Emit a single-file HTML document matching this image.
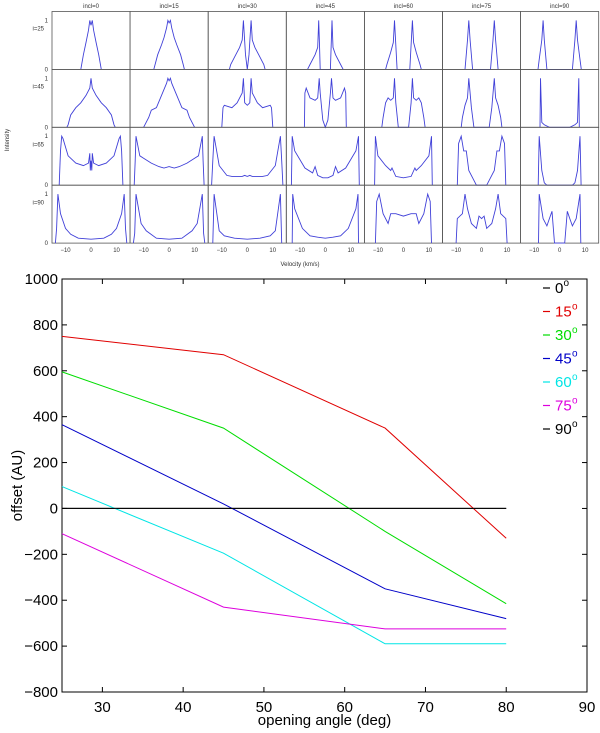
<!DOCTYPE html>
<html><head><meta charset="utf-8"><style>
body{margin:0;background:#fff;width:600px;height:733px;overflow:hidden;font-family:"Liberation Sans",sans-serif}
svg{position:absolute;left:0;top:0}
</style></head><body>
<svg id="top" width="600" height="270"></svg>
<svg id="bot" width="600" height="733" style="top:0"></svg>
<script>
const NS="http://www.w3.org/2000/svg";
function mk(p,t,a){const e=document.createElementNS(NS,t);for(const k in a)e.setAttribute(k,a[k]);p.appendChild(e);return e;}
// ---------- top grid data ----------
const colTitles=["incl=0","incl=15","incl=30","incl=45","incl=60","incl=75","incl=90"];
const rowLabels=["i=25","i=45","i=65","i=90"];
const velTicks=[-10,0,10];
// half-profiles [velocity, intensity], mirrored about v=0
const profiles=[
[[[0,0.9],[0.5,1],[1,0.8],[2,0.55],[3,0.3],[4,0]],
 [[0,0.95],[0.5,1],[1,0.85],[2,0.65],[3,0.5],[4.5,0.3],[5.5,0.1],[6,0]],
 [[0,0],[0.7,0.3],[1.5,1],[2,0.6],[3,0.45],[5,0.25],[6.5,0.1],[7,0]],
 [[0,0],[2,0],[2.3,0.5],[2.6,1],[3,0.45],[4,0.3],[6,0.1],[7,0]],
 [[0,0],[2.5,0],[3,0.5],[3.5,1],[4,0.55],[5,0.35],[6.5,0.1],[7,0]],
 [[0,0],[3.5,0],[4.5,0.6],[5,1],[5.5,0.6],[6.5,0]],
 [[0,0],[5,0],[6,0.6],[6.5,1],[7,0.6],[8,0.2],[8.5,0]]],
[[[0,1],[0.5,0.8],[2,0.65],[4,0.5],[6,0.4],[8,0.25],[9,0.05],[9.5,0]],
 [[0,0.95],[0.5,1],[1,0.9],[3,0.65],[5,0.4],[7,0.35],[8,0.2],[10,0]],
 [[0,0.45],[1,0.5],[1.5,1],[2,0.7],[4,0.5],[6,0.4],[9,0.45],[9.5,0.4],[10,0]],
 [[0,0],[1,0.15],[2,0.7],[2.4,1],[3,0.6],[4,0.55],[6,0.6],[7.5,0.8],[8,0.7],[8.2,0]],
 [[0,0],[2,0],[3,0.5],[3.5,1],[4,0.6],[5,0.55],[6,0.6],[7,0.5],[8,0.2],[8.5,0]],
 [[0,0],[3,0],[4,0.4],[5,1],[5.5,0.6],[6.5,0.45],[7.5,0.2],[8,0]],
 [[0,0],[4,0],[6,0.05],[7,0.1],[7.5,1],[7.7,0]]],
[[[0,0.5],[0.3,0.3],[0.5,0.65],[1,0.45],[3,0.4],[6,0.45],[9,0.6],[11,0.95],[11.5,1],[12,0.7],[12.5,0]],
 [[0,0.38],[2,0.35],[4,0.38],[7,0.45],[10,0.55],[11.5,0.6],[13,1],[13.3,0.5],[13.7,0]],
 [[0,0.18],[1,0.2],[2,0.18],[6,0.18],[8,0.2],[11,0.4],[13,1],[13.5,0.5],[14,0]],
 [[0,0.15],[1,0.15],[3,0.2],[4,0.38],[5,0.25],[8,0.35],[12,0.7],[13,1],[13.3,0]],
 [[0,0.15],[3,0.18],[4.5,0.35],[5,0.3],[7,0.4],[10,0.6],[11,1],[11.3,0]],
 [[0,0],[2,0],[3,0.1],[5,0.3],[6,0.7],[7,0.7],[8,1],[9,0.85],[9.5,0]],
 [[0,0],[5,0],[6,0.05],[7,0.3],[8,1],[8.4,0]]],
[[[0,0.08],[5,0.1],[8,0.18],[10,0.3],[12,0.6],[13,1],[13.5,0.3],[14,0]],
 [[0,0.08],[5,0.1],[9,0.25],[11,0.4],[13,1],[13.5,0.2],[14,0]],
 [[0,0.08],[5,0.1],[9,0.15],[11,0.25],[13,1],[13.5,0]],
 [[0,0.1],[3,0.12],[6,0.15],[9,0.3],[12,0.7],[12.8,1],[13,0]],
 [[0,0.55],[3,0.6],[5,0.6],[6,0.4],[8,0.6],[9.5,1],[10.5,0.85],[11,0]],
 [[0,0.5],[1,0.55],[2,0.3],[4,0.4],[5.5,0.7],[6.5,1],[7.5,0.6],[9.5,0.5],[10,0]],
 [[0,0],[2,0],[3,0.65],[4,0.5],[5,0.35],[6.5,0.5],[8,1],[8.3,0]]]
];
const T=document.getElementById('top');
const gx0=52,gw=78.1,gy0=11.5,gh=57.9;
function vx(c,v){return gx0+c*gw+gw/2+v*2.55;}
function iy(r,i){return gy0+(r+1)*gh-i*49;}
for(let r=0;r<4;r++){
 for(let c=0;c<7;c++){
  const f=mk(T,'rect',{x:gx0+c*gw,y:gy0+r*gh,width:gw,height:gh,fill:'none',stroke:'#555','stroke-width':0.8});
  
  
  const h=profiles[r][c];
  const pts=[];
  for(let k=h.length-1;k>=0;k--)pts.push([-h[k][0],h[k][1]]);
  for(let k=1;k<h.length;k++)pts.push(h[k]);
  const ln=mk(T,'polyline',{points:pts.map(p=>vx(c,p[0]).toFixed(1)+','+iy(r,p[1]).toFixed(1)).join(' '),fill:'none',stroke:'#4040d8','stroke-width':0.9});
  
  
 }
 const rl=mk(T,'text',{x:44,y:gy0+r*gh+gh*0.33,'font-size':6,'text-anchor':'end',fill:'#333'});rl.textContent=rowLabels[r];
 
 
 const a=mk(T,'text',{x:48,y:iy(r,1)+2,'font-size':6,'text-anchor':'end',fill:'#333'});a.textContent='1';
 const b=mk(T,'text',{x:48,y:iy(r,0)+2,'font-size':6,'text-anchor':'end',fill:'#333'});b.textContent='0';
}
for(let c=0;c<7;c++){
 const t=mk(T,'text',{x:gx0+c*gw+gw/2,y:8,'font-size':6,'text-anchor':'middle',fill:'#333'});t.textContent=colTitles[c];
 
 
 velTicks.forEach(v=>{const tt=mk(T,'text',{x:vx(c,v),y:gy0+4*gh+9,'font-size':6,'text-anchor':'middle',fill:'#333'});tt.textContent=v===-10?'−10':String(v);});
}
const il=mk(T,'text',{x:9,y:140,'font-size':6,'text-anchor':'middle',fill:'#333',transform:'rotate(-90 9 140)'});il.textContent='Intensity';


const vl=mk(T,'text',{x:300,y:266,'font-size':6,'text-anchor':'middle',fill:'#333'});vl.textContent='Velocity (km/s)';



// ---------- bottom chart data ----------
const angles=[25,45,65,80];
const inc0=[0,0,0,0];
const inc15=[750,670,350,-130];
const inc30=[595,350,-100,-415];
const inc45=[365,20,-350,-480];
const inc60=[95,-195,-590,-590];
const inc75=[-110,-430,-525,-525];
const inc90=[0,0,0,0];
const xTicks=[30,40,50,60,70,80,90];
const yTicks=[-800,-600,-400,-200,0,200,400,600,800,1000];
const legendLabels=["0","15","30","45","60","75","90"];
const B=document.getElementById('bot');
const L=62,R=587,TP=279,BT=692;
const xs=v=>L+(v-25)/(90-25)*(R-L);
const ys=v=>BT-(v+800)/1800*(BT-TP);
const ax=mk(B,'rect',{x:L,y:TP,width:R-L,height:BT-TP,fill:'none',stroke:'#000','stroke-width':1});


xTicks.forEach(t=>{const x=xs(t);mk(B,'line',{x1:x,x2:x,y1:BT,y2:BT-5,stroke:'#000'});mk(B,'line',{x1:x,x2:x,y1:TP,y2:TP+5,stroke:'#000'});
 const e=mk(B,'text',{x:x,y:BT+20,'font-size':15,'text-anchor':'middle'});e.textContent=t;
 
 });
yTicks.forEach(t=>{const y=ys(t);mk(B,'line',{x1:L,x2:L+5,y1:y,y2:y,stroke:'#000'});mk(B,'line',{x1:R,x2:R-5,y1:y,y2:y,stroke:'#000'});
 const e=mk(B,'text',{x:L-4,y:y+5,'font-size':15,'text-anchor':'end'});e.textContent=t<0?'−'+(-t):t;
 
 });
const xt=mk(B,'text',{x:(L+R)/2,y:725,'font-size':15,'text-anchor':'middle'});xt.textContent='opening angle (deg)';


const yt=mk(B,'text',{x:22,y:(TP+BT)/2,'font-size':15,'text-anchor':'middle',transform:'rotate(-90 22 '+((TP+BT)/2)+')'});yt.textContent='offset (AU)';


const series=[inc0,inc15,inc30,inc45,inc60,inc75,inc90];
const colors=['#000','#e00000','#00dd00','#0000c8','#00e5e5','#dd00dd','#000'];
series.forEach((s,i)=>{
 const pl=mk(B,'polyline',{points:s.map((v,k)=>xs(angles[k]).toFixed(1)+','+ys(v).toFixed(1)).join(' '),fill:'none',stroke:colors[i],'stroke-width':1});
 
 
 const ly=293+i*23.5;
 const g=mk(B,'g',{});
 
 
 mk(g,'line',{x1:543,x2:550,y1:ly-5,y2:ly-5,stroke:colors[i],'stroke-width':1.2});
 const tx=mk(g,'text',{x:555,y:ly,'font-size':15,fill:colors[i]});tx.textContent=legendLabels[i];
 const sp=mk(g,'text',{x:555+legendLabels[i].length*8.5,y:ly-7,'font-size':10,fill:colors[i]});sp.textContent='o';
});
</script>
</body></html>
